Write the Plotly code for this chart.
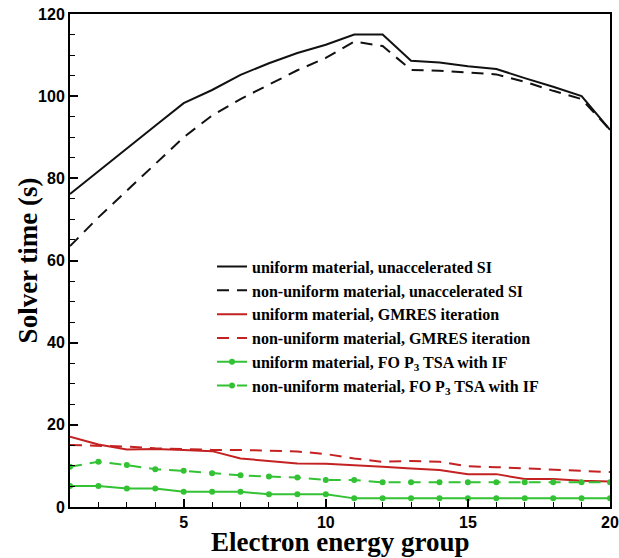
import plotly.graph_objects as go

# Electron energy groups
groups = list(range(1, 21))

# Solver time (s) per energy group
uniform_si = [76.2, 81.8, 87.3, 92.8, 98.3, 101.5, 105.2, 108.0, 110.5, 112.5,
              115.0, 115.0, 108.6, 108.2, 107.3, 106.6, 104.4, 102.3, 100.0, 91.8]
nonuniform_si = [63.5, 70.5, 77.0, 83.5, 90.0, 95.3, 99.3, 102.8, 106.3, 109.3,
                 113.3, 112.2, 106.4, 106.2, 105.8, 105.3, 103.5, 101.3, 99.3, 91.8]
uniform_gmres = [17.1, 15.2, 14.0, 14.1, 13.9, 13.6, 11.8, 11.2, 10.6, 10.5,
                 10.2, 9.8, 9.4, 9.0, 8.0, 8.0, 6.8, 6.8, 6.4, 6.2]
nonuniform_gmres = [15.1, 14.9, 14.7, 14.3, 14.1, 13.9, 13.9, 13.7, 13.5, 12.9,
                    11.8, 11.0, 11.2, 11.0, 9.9, 9.7, 9.4, 9.2, 8.8, 8.5]
uniform_fo = [5.1, 5.1, 4.5, 4.5, 3.7, 3.7, 3.7, 3.1, 3.1, 3.1,
              2.1, 2.1, 2.1, 2.1, 2.1, 2.1, 2.1, 2.1, 2.1, 2.1]
nonuniform_fo = [9.8, 11.0, 10.2, 9.2, 8.8, 8.2, 7.7, 7.4, 7.2, 6.6,
                 6.6, 6.0, 6.0, 6.0, 6.0, 6.0, 6.0, 6.0, 6.0, 6.0]

labels = [
    "uniform material, unaccelerated SI",
    "non-uniform material, unaccelerated SI",
    "uniform material, GMRES iteration",
    "non-uniform material, GMRES iteration",
    "uniform material, FO P<sub>3</sub> TSA with IF",
    "non-uniform material, FO P<sub>3</sub> TSA with IF",
]

x_title = "Electron energy group"
y_title = "Solver time (s)"

BLACK = "#111111"
RED = "#c42222"
GREEN = "#33c233"
DASH = "12px,8px"
SERIF = "Liberation Serif, Times New Roman, serif"
SANS = "Liberation Sans, Arial, sans-serif"

series = [
    (uniform_si, BLACK, "solid", False),
    (nonuniform_si, BLACK, DASH, False),
    (uniform_gmres, RED, "solid", False),
    (nonuniform_gmres, RED, DASH, False),
    (uniform_fo, GREEN, "solid", True),
    (nonuniform_fo, GREEN, DASH, True),
]

fig = go.Figure()
for (vals, color, dash, markers), name in zip(series, labels):
    fig.add_trace(go.Scatter(
        x=groups, y=vals, name=name,
        mode="lines+markers" if markers else "lines",
        line=dict(color=color, width=2, dash=dash),
        marker=dict(color=color, size=6),
    ))

axis_common = dict(
    showline=True, linecolor="black", linewidth=2, mirror=True,
    ticks="inside", ticklen=8, tickwidth=2, tickcolor="black",
    showgrid=False, zeroline=False, automargin=False,
    tickfont=dict(family=SANS, size=16, color="black", weight="bold"),
)
title_font = dict(family=SERIF, size=27, color="black", weight="bold")

fig.update_xaxes(
    range=[1, 20], tickvals=[5, 10, 15, 20],
    minor=dict(dtick=1, tick0=0, ticks="inside", ticklen=5, tickcolor="black", tickwidth=1),
    **axis_common,
)
fig.update_yaxes(
    range=[0, 120], dtick=20,
    minor=dict(dtick=5, ticks="inside", ticklen=5, tickcolor="black", tickwidth=1),
    **axis_common,
)

# Axis titles placed as paper-anchored annotations to sit tight against the ticks
fig.add_annotation(
    text=x_title, xref="paper", yref="paper", x=0.5, y=-0.1034,
    xanchor="center", yanchor="bottom", showarrow=False, font=title_font,
    borderpad=0,
)
fig.add_annotation(
    text=y_title, xref="paper", yref="paper", x=-0.078, y=0.5,
    xanchor="center", yanchor="middle", textangle=-90, showarrow=False, font=title_font,
)

fig.update_layout(
    width=619, height=558,
    margin=dict(l=70, r=9, t=14, b=51),
    plot_bgcolor="white", paper_bgcolor="white",
    showlegend=True,
    legend=dict(
        x=0.263, y=0.522, xanchor="left", yanchor="top",
        bgcolor="rgba(0,0,0,0)",
        font=dict(family=SERIF, size=16, color="black", weight="bold"),
        itemwidth=30, tracegroupgap=0,
    ),
)

fig.write_html("out.html")
